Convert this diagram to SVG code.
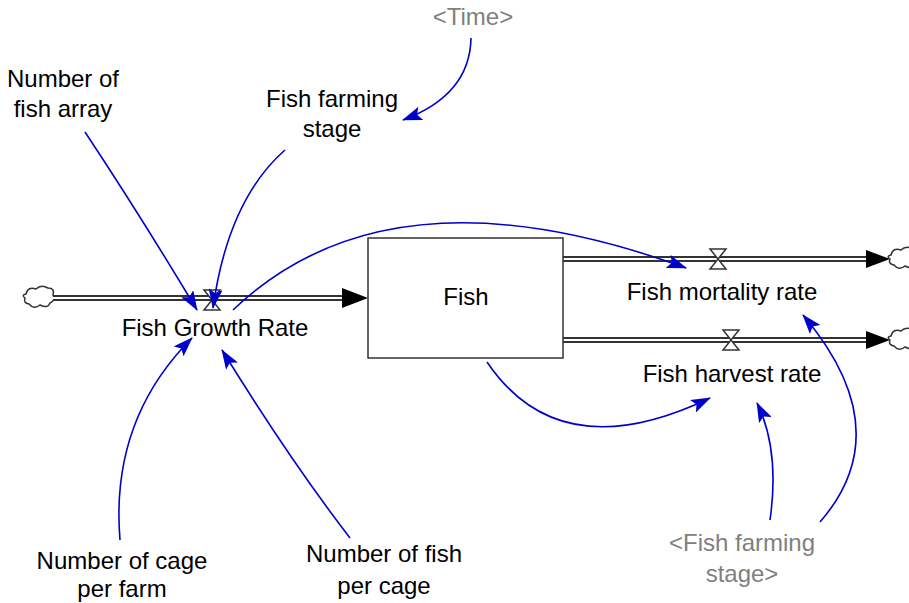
<svg xmlns="http://www.w3.org/2000/svg" width="909" height="603" viewBox="0 0 909 603">
<style>
text{font-family:"Liberation Sans",Arial,sans-serif;font-size:24px;fill:#000;text-anchor:middle}
.g{fill:#808080}
.pipe{stroke:#333;stroke-width:6;fill:none}
.pipein{stroke:#fff;stroke-width:2;fill:none}
.valve{fill:#fff;stroke:#333;stroke-width:1.5}
.cloud{fill:#fff;stroke:#333;stroke-width:1.5}
.link{stroke:#0000cc;stroke-width:1.6;fill:none;marker-end:url(#ah)}
</style>
<defs>
<marker id="ah" markerWidth="20" markerHeight="14" refX="19" refY="7" orient="auto" markerUnits="userSpaceOnUse">
<path d="M0,0 L20,7 L0,14 L4,7 Z" fill="#0000cc"/>
</marker>
<path id="cl" d="M-13,-4 q2,-8 10,-5 q5,-5 12,-1 q7,0 5,7 q3,5 -3,8 q-2,6 -10,2 q-6,5 -11,-1 q-6,-1 -4,-6 q-4,-3 1,-4 z"/>
<path id="vl" d="M-8,-10 L8,-10 L-8,10 L8,10 Z"/>
</defs>
<g id="flows">
<g id="inflow">
<use href="#cl" class="cloud" x="39" y="298"/>
<path class="pipe" d="M53,298 H344"/>
<path class="pipein" d="M53,298 H344"/>
<path d="M342,288 L368,298 L342,308 Z" fill="#000"/>
</g>
<g id="out1">
<path class="pipe" d="M563,259 H868"/>
<path class="pipein" d="M563,259 H868"/>
<path d="M866,250 L890,259 L866,268 Z" fill="#000"/>
<use href="#cl" class="cloud" x="904" y="259"/>
</g>
<g id="out2">
<path class="pipe" d="M563,340 H868"/>
<path class="pipein" d="M563,340 H868"/>
<path d="M866,331 L890,340 L866,349 Z" fill="#000"/>
<use href="#cl" class="cloud" x="904" y="340"/>
</g>
</g>
<g id="fish-growth-rate">
<use href="#vl" class="valve" x="212" y="300"/>
<text x="215" y="336">Fish Growth Rate</text>
</g>
<g id="fish-mortality-rate">
<use href="#vl" class="valve" x="718" y="259"/>
<text x="722" y="300">Fish mortality rate</text>
</g>
<g id="fish-harvest-rate">
<use href="#vl" class="valve" x="731" y="340"/>
<text x="732" y="382">Fish harvest rate</text>
</g>
<g id="fish">
<rect x="368" y="238" width="195" height="120" fill="#fff" stroke="#333" stroke-width="1.5"/>
<text x="466" y="305">Fish</text>
</g>
<g id="time"><text class="g" x="473" y="25">&lt;Time&gt;</text></g>
<g id="fish-farming-stage"><text x="332" y="107">Fish farming</text><text x="332" y="137">stage</text></g>
<g id="number-of-fish-array"><text x="63" y="87">Number of</text><text x="63" y="117">fish array</text></g>
<g id="number-of-cage-per-farm"><text x="122" y="569">Number of cage</text><text x="122" y="597">per farm</text></g>
<g id="number-of-fish-per-cage"><text x="384" y="562">Number of fish</text><text x="384" y="594">per cage</text></g>
<g id="fish-farming-stage-shadow"><text class="g" x="742" y="551">&lt;Fish farming</text><text class="g" x="742" y="582">stage&gt;</text></g>
<g id="connectors">
<path class="link" d="M471,38 Q470,95 403,120"/>
<path class="link" d="M85,132 Q140,215 197,310"/>
<path class="link" d="M285,150 Q228,200 213,308"/>
<path class="link" d="M233,310 Q390,160 686,268"/>
<path class="link" d="M120,540 Q110,420 192,338"/>
<path class="link" d="M350,538 Q290,460 222,350"/>
<path class="link" d="M487,362 Q560,470 710,398"/>
<path class="link" d="M770,520 Q780,450 757,403"/>
<path class="link" d="M820,522 Q900,430 803,315"/>
</g>
</svg>
